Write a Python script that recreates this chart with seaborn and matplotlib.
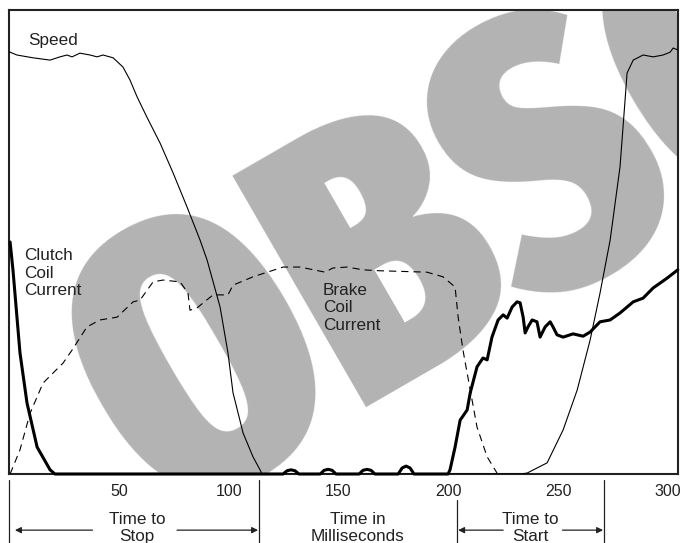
import os
import numpy as np
import pandas as pd
import matplotlib
matplotlib.use("Agg")
import matplotlib.pyplot as plt
import seaborn as sns
from matplotlib import font_manager
from matplotlib.textpath import TextPath

# time in milliseconds, level in % of full scale
speed_t = [0, 3.6, 10.9, 18.7, 23.2, 26.4, 28.7, 32.3, 36.9, 40.1, 42.8, 47.4, 51.9, 55.1,
           58.3, 62.8, 68.8, 74.7, 81.1, 87.0, 90.2, 96.1, 99.7, 102.0, 106.6, 111.1, 114.3,
           115.2, 232.7, 235.9, 245.0, 252.3, 258.7, 264.6, 269.1, 273.7, 278.2, 280.5, 281.4,
           284.2, 288.7, 293.3, 297.8, 301.0, 302.4, 304.5]
speed_v = [91.0, 90.3, 89.7, 89.2, 89.9, 90.3, 89.9, 90.7, 90.3, 89.9, 90.3, 89.7, 87.7, 84.9,
           81.3, 76.9, 71.3, 64.9, 57.5, 50.4, 46.1, 36.0, 26.1, 17.5, 8.8, 3.7, 0.9,
           0.0, 0.0, 0.2, 2.4, 9.5, 18.1, 28.9, 39.0, 50.4, 66.2, 80.6, 86.4,
           89.2, 90.3, 89.9, 90.3, 90.9, 91.8, 91.4]

brake_t = [0.5, 5.0, 9.6, 15.5, 24.6, 28.7, 35.5, 41.4, 49.2, 56.5, 59.7, 65.6, 70.1, 77.9,
           81.5, 82.4, 85.6, 92.9, 99.7, 102.0, 111.1, 124.8, 132.5, 143.9, 147.5, 153.9,
           161.2, 168.9, 190.3, 197.6, 203.1, 204.5, 206.7, 210.0, 213.1, 217.7, 222.2]
brake_v = [0.0, 5.2, 13.1, 19.6, 23.9, 26.7, 31.7, 33.2, 33.8, 37.1, 37.5, 41.4, 41.8, 41.4,
           39.0, 35.3, 35.8, 38.6, 38.6, 40.7, 42.5, 44.6, 44.6, 43.5, 44.4, 44.6,
           44.0, 43.8, 43.5, 42.5, 40.3, 33.8, 26.7, 18.1, 10.1, 3.7, 0.2]

clutch_t = [0.5, 1.8, 5.0, 8.2, 12.8, 18.7, 20.9,
            124.8, 126.6, 128.4, 130.2, 132.0,
            141.7, 143.5, 145.3, 147.1, 148.9,
            159.4, 161.2, 163.0, 164.8, 166.6,
            177.2, 179.0, 180.8, 182.6, 184.4,
            199.9, 200.8, 203.1, 205.4, 208.6, 210.0, 213.1, 215.8, 217.7, 219.9, 222.7,
            225.0, 226.8, 229.1, 231.3, 232.7, 234.1, 235.0, 236.3, 238.2, 240.4, 241.8,
            244.1, 246.4, 247.7, 249.5, 252.3, 256.8, 261.4, 264.6, 269.1, 273.7, 278.2,
            284.2, 288.7, 293.3, 299.6, 304.5]
clutch_v = [50.0, 44.0, 26.1, 15.3, 5.8, 0.9, 0.0,
            0.0, 0.7, 0.9, 0.7, 0.0,
            0.0, 0.8, 1.0, 0.8, 0.0,
            0.0, 0.8, 1.0, 0.8, 0.0,
            0.0, 1.3, 1.7, 1.3, 0.0,
            0.0, 0.9, 5.8, 11.6, 13.8, 17.5, 23.1, 25.0, 24.6, 29.5, 33.2,
            34.3, 33.6, 36.0, 37.1, 36.9, 33.8, 30.4, 31.7, 33.2, 32.8, 29.5,
            31.7, 32.8, 31.7, 30.0, 29.5, 30.2, 29.7, 30.6, 32.8, 33.2, 34.7,
            37.1, 37.9, 40.1, 42.2, 44.0]

tick_values = [50, 100, 150, 200, 250, 300]
tick_labels = ["50", "100", "150", "200", "250", "300"]

sns.set_style("white")
plt.rcParams["font.family"] = ["Liberation Sans", "DejaVu Sans"]

fig = plt.figure(figsize=(6.81, 5.43), dpi=100)
ax = fig.add_axes([9 / 681, 69 / 543, 669 / 681, 464 / 543])
ax.set_xlim(0, 304.6)
ax.set_ylim(0, 100)


# pick the narrowest heavy sans face that is installed for the watermark
def face_score(path):
    b = os.path.basename(path)
    if any(k in b for k in ("Italic", "Oblique", "Serif", "Mono", "CJK", "Math")):
        return None
    if "ExtraCondensed" in b or "UltraCondensed" in b:
        w = 3
    elif "SemiCondensed" in b:
        w = 1
    elif "Condensed" in b or "Narrow" in b:
        w = 2
    else:
        w = 0
    if "ExtraBlack" in b or "Black" in b or "Heavy" in b:
        g = 3
    elif "ExtraBold" in b:
        g = 2.5
    elif "SemiBold" in b:
        g = 1
    elif "Bold" in b:
        g = 2
    else:
        return None
    return (w, g)


best, best_score = None, None
for f in font_manager.fontManager.ttflist:
    sc = face_score(f.fname)
    if sc is not None and (best_score is None or sc > best_score):
        best, best_score = f.fname, sc
if best is not None:
    wm_prop = font_manager.FontProperties(fname=best)
else:
    wm_prop = font_manager.FontProperties(family="DejaVu Sans", weight="bold")


def ink(s):
    return TextPath((0, 0), s, size=1, prop=wm_prop).get_extents()


cap = ink("B").height
b_left = ink("OB").x1 - ink("B").width
s_left = ink("OBS").x1 - ink("S").width
em_px = (267 / cap) ** 0.35 * (186 / (s_left - b_left)) ** 0.65
a = ((116 - b_left * em_px) + (300 - s_left * em_px)) / 2
ux, uy = np.cos(np.radians(30)), -np.sin(np.radians(30))
px = 367 + (a - 116.3) * ux
py = 403 + (a - 116.3) * uy
wm_prop.set_size(em_px * 0.72)
ax.text((px - 9) / 669, (474 - py) / 464, "OBSOLETE", transform=ax.transAxes,
        rotation=30, rotation_mode="anchor", ha="left", va="baseline",
        fontproperties=wm_prop, color="#b3b3b3", clip_on=True, zorder=0.5)

sns.lineplot(x=speed_t, y=speed_v, ax=ax, color="black", lw=0.8,
             estimator=None, sort=False, zorder=3)
sns.lineplot(x=brake_t, y=brake_v, ax=ax, color="black", lw=0.8,
             linestyle=(0, (6.5, 4.5)), estimator=None, sort=False, zorder=3)
sns.lineplot(x=clutch_t, y=clutch_v, ax=ax, color="black", lw=2.2,
             estimator=None, sort=False, zorder=4, clip_on=False)

for s in ax.spines.values():
    s.set_color("#222222")
    s.set_linewidth(1.5)

ax.set_yticks([])
ax.set_xticks(tick_values, tick_labels)
ax.tick_params(axis="x", length=0, pad=7, labelsize=11.5, colors="#222222")
ax.set_xlabel("")
ax.set_ylabel("")

lab = dict(fontsize=12.3, color="#222222", linespacing=1.2)
ax.text(8.7, 93.5, "Speed", ha="left", va="center", **lab)
ax.text(6.8, 43.3, "Clutch\nCoil\nCurrent", ha="left", va="center", **lab)
ax.text(143.0, 35.8, "Brake\nCoil\nCurrent", ha="left", va="center", **lab)

# dividers and arrows under the axis
for x, top in [(0, -0.013), (114, -0.013), (204, -0.056), (271, -0.013)]:
    ax.axvline(x, ymin=-0.149, ymax=top, color="#222222", lw=0.9, clip_on=False)

tr = ax.get_xaxis_transform()
arr = dict(arrowstyle="-|>", color="#222222", lw=0.9, mutation_scale=9,
           shrinkA=0, shrinkB=0)
for tail, head in [(38, 2.7), (76.5, 113.4), (225, 204.5), (252, 270.5)]:
    ax.annotate("", xy=(head, -0.121), xytext=(tail, -0.121), xycoords=tr,
                textcoords=tr, arrowprops=arr, annotation_clip=False)

ax.text(58.3, -0.116, "Time to\nStop", transform=tr, ha="center", va="center",
        clip_on=False, **lab)
ax.text(158.9, -0.116, "Time in\nMilliseconds", transform=tr, ha="center",
        va="center", clip_on=False, **lab)
ax.text(237.3, -0.116, "Time to\nStart", transform=tr, ha="center", va="center",
        clip_on=False, **lab)

fig.savefig("out.png", dpi=100)
